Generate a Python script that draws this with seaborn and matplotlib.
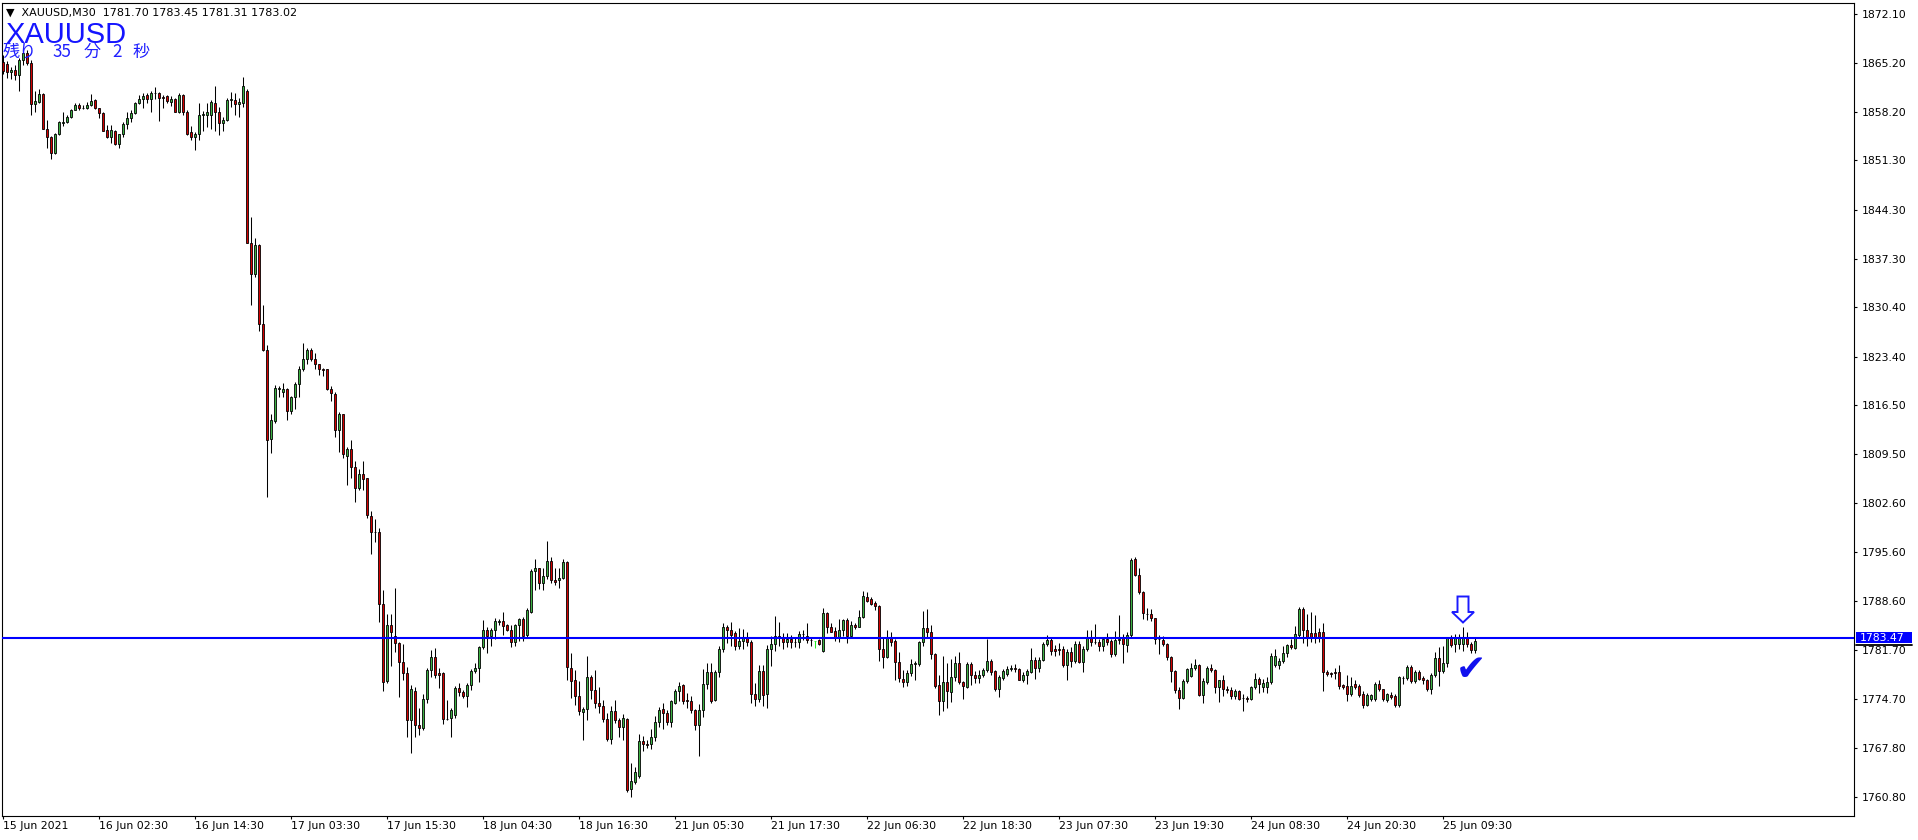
import numpy as np
import pandas as pd
import matplotlib
matplotlib.use("Agg")
import matplotlib.pyplot as plt
from matplotlib.patches import Polygon, Rectangle
from matplotlib.lines import Line2D
import seaborn as sns

sns.set_theme(style="white")
plt.rcParams['font.family'] = ['DejaVu Sans', 'Noto Sans CJK JP']

W, H = 1918, 840

HEADER = "\u25bc  XAUUSD,M30  1781.70 1783.45 1781.31 1783.02"
SYMBOL = "XAUUSD"
COUNTDOWN = ["残り", "35", "分", "2", "秒"]
LINE_PRICE = 1783.47

TIME_LABELS = ["15 Jun 2021", "16 Jun 02:30", "16 Jun 14:30", "17 Jun 03:30", "17 Jun 15:30",
               "18 Jun 04:30", "18 Jun 16:30", "21 Jun 05:30", "21 Jun 17:30", "22 Jun 06:30",
               "22 Jun 18:30", "23 Jun 07:30", "23 Jun 19:30", "24 Jun 08:30", "24 Jun 20:30",
               "25 Jun 09:30"]
LABEL_STEP = 24  # bars between time labels

PRICE_TICKS = [1872.10, 1865.20, 1858.20, 1851.30, 1844.30, 1837.30, 1830.40, 1823.40, 1816.50,
               1809.50, 1802.60, 1795.60, 1788.60, 1781.70, 1774.70, 1767.80, 1760.80]

# M30 bars, 15 Jun 2021 -> 25 Jun 2021
opens = [
    1865.3, 1865.0, 1863.8, 1864.2, 1863.4, 1865.6, 1866.6, 1865.1, 1859.3, 1859.6, 1860.7, 1855.8,
    1854.6, 1852.4, 1855.0, 1856.6, 1856.7, 1857.4, 1858.5, 1859.1, 1858.8, 1858.8, 1859.1, 1859.9,
    1858.7, 1858.0, 1855.6, 1854.6, 1855.5, 1853.6, 1855.0, 1856.4, 1857.3, 1858.0, 1859.4, 1860.0,
    1860.6, 1860.0, 1860.8, 1860.8, 1860.3, 1860.4, 1859.6, 1860.0, 1858.2, 1860.6, 1858.1, 1855.3,
    1854.6, 1855.0, 1857.7, 1857.8, 1857.8, 1859.5, 1858.2, 1856.6, 1857.1, 1859.9, 1859.9, 1859.3,
    1859.5, 1861.2, 1839.6, 1835.1, 1839.3, 1828.1, 1824.4, 1811.7, 1814.3, 1818.8, 1818.4, 1818.8,
    1815.7, 1817.7, 1819.5, 1821.7, 1823.0, 1824.3, 1823.0, 1822.3, 1821.7, 1821.6, 1818.8, 1818.1,
    1812.9, 1815.2, 1809.3, 1810.3, 1807.7, 1804.7, 1806.7, 1806.1, 1800.8, 1798.5, 1798.5, 1788.3,
    1777.3, 1785.3, 1783.7, 1782.7, 1780.0, 1778.4, 1771.8, 1775.9, 1771.1, 1770.6, 1774.8, 1778.9,
    1780.7, 1778.4, 1778.4, 1771.9, 1772.0, 1772.4, 1776.3, 1775.7, 1775.2, 1776.7, 1778.7, 1779.1,
    1782.1, 1784.5, 1783.7, 1784.5, 1785.7, 1785.8, 1785.2, 1784.6, 1782.9, 1785.2, 1786.1, 1783.8,
    1787.1, 1792.9, 1793.3, 1791.2, 1792.2, 1794.3, 1791.6, 1791.6, 1792.0, 1794.2, 1779.2, 1777.5,
    1775.2, 1772.9, 1773.3, 1777.8, 1776.0, 1774.1, 1773.8, 1771.9, 1769.0, 1773.0, 1771.8, 1770.7,
    1771.9, 1761.9, 1763.0, 1763.8, 1768.8, 1768.4, 1768.3, 1769.4, 1771.4, 1773.3, 1772.7, 1771.4,
    1774.2, 1775.8, 1776.7, 1774.6, 1774.5, 1773.1, 1771.1, 1773.1, 1776.8, 1778.5, 1774.6, 1778.5,
    1781.9, 1785.0, 1784.5, 1784.1, 1782.3, 1783.0, 1783.4, 1782.8, 1775.5, 1774.8, 1778.7, 1775.4,
    1781.8, 1782.6, 1783.7, 1783.4, 1782.9, 1783.3, 1782.9, 1782.8, 1783.9, 1783.7, 1783.1, 1783.0,
    1783.1, 1781.6, 1786.9, 1785.0, 1784.4, 1783.5, 1784.6, 1786.0, 1783.7, 1785.3, 1785.0, 1786.4,
    1789.2, 1788.9, 1788.4, 1788.0, 1781.8, 1780.7, 1783.4, 1783.0, 1780.0, 1777.6, 1777.2, 1778.4,
    1779.7, 1779.7, 1782.8, 1784.8, 1784.3, 1781.1, 1776.7, 1774.5, 1777.2, 1775.7, 1777.8, 1779.8,
    1777.2, 1776.5, 1779.7, 1778.2, 1777.7, 1778.2, 1778.8, 1780.1, 1778.7, 1776.2, 1777.7, 1778.3,
    1779.0, 1779.2, 1779.0, 1777.5, 1778.1, 1778.6, 1780.3, 1779.1, 1780.3, 1782.6, 1783.1, 1781.8,
    1781.9, 1781.9, 1779.5, 1781.4, 1780.2, 1782.6, 1780.0, 1781.8, 1783.4, 1782.8, 1782.8, 1782.3,
    1783.3, 1783.0, 1781.1, 1783.1, 1783.4, 1782.4, 1783.8, 1794.6, 1792.4, 1789.9, 1786.8, 1786.8,
    1786.2, 1783.3, 1783.1, 1782.6, 1780.7, 1778.7, 1776.0, 1774.9, 1777.3, 1778.0, 1779.1, 1779.6,
    1775.3, 1777.2, 1779.2, 1778.9, 1776.4, 1777.4, 1776.2, 1776.0, 1775.1, 1775.9, 1774.9, 1774.9,
    1774.8, 1776.4, 1777.6, 1776.4, 1776.4, 1777.1, 1779.6, 1779.6, 1780.1, 1781.2, 1782.4, 1782.0,
    1783.8, 1787.5, 1784.6, 1784.1, 1784.1, 1784.2, 1784.2, 1778.5, 1778.4, 1778.6, 1778.5, 1776.7,
    1776.6, 1775.4, 1776.9, 1776.6, 1775.5, 1773.9, 1774.8, 1774.7, 1776.9, 1776.1, 1774.6, 1775.3,
    1775.2, 1773.9, 1777.7, 1777.7, 1779.3, 1777.3, 1778.5, 1777.7, 1777.4, 1776.1, 1778.1, 1780.5,
    1778.7, 1779.8, 1783.4, 1782.6, 1782.6, 1782.6, 1783.4, 1782.6, 1781.70,
]
highs = [
    1866.3, 1865.4, 1864.6, 1864.8, 1865.9, 1867.2, 1867.0, 1865.6, 1861.1, 1861.5, 1860.9, 1857.0,
    1854.8, 1855.2, 1856.9, 1858.2, 1857.7, 1858.6, 1859.5, 1859.4, 1859.2, 1859.6, 1860.7, 1860.0,
    1858.8, 1858.1, 1856.3, 1856.3, 1855.6, 1855.1, 1856.7, 1858.2, 1858.5, 1859.6, 1860.6, 1860.8,
    1860.8, 1861.2, 1861.7, 1861.0, 1860.6, 1860.6, 1860.4, 1860.1, 1860.8, 1860.7, 1858.5, 1856.2,
    1855.3, 1859.5, 1858.3, 1859.4, 1859.9, 1861.8, 1858.9, 1857.4, 1860.1, 1861.0, 1860.8, 1860.1,
    1863.2, 1861.5, 1843.3, 1840.2, 1839.4, 1830.7, 1825.0, 1815.2, 1819.4, 1819.2, 1819.7, 1818.9,
    1817.8, 1819.8, 1822.0, 1825.3, 1824.6, 1824.6, 1823.9, 1822.4, 1821.8, 1821.7, 1819.2, 1818.4,
    1815.5, 1815.3, 1810.6, 1811.6, 1808.5, 1807.4, 1808.5, 1806.2, 1801.5, 1800.3, 1799.0, 1790.2,
    1786.8, 1786.8, 1790.5, 1782.9, 1782.5, 1779.3, 1776.7, 1776.5, 1773.4, 1775.5, 1779.2, 1781.7,
    1782.0, 1779.2, 1778.5, 1774.6, 1773.4, 1776.6, 1777.0, 1776.0, 1777.0, 1779.0, 1779.8, 1782.2,
    1786.0, 1784.9, 1784.8, 1786.3, 1786.1, 1787.1, 1785.4, 1785.2, 1785.4, 1786.2, 1786.4, 1787.6,
    1793.2, 1794.6, 1793.4, 1793.3, 1797.2, 1794.9, 1793.3, 1793.4, 1794.6, 1794.4, 1781.3, 1778.8,
    1777.3, 1773.6, 1780.8, 1778.2, 1778.9, 1776.4, 1774.6, 1772.8, 1773.8, 1774.6, 1772.0, 1772.6,
    1772.0, 1765.6, 1765.0, 1769.7, 1769.5, 1768.9, 1770.4, 1772.3, 1773.6, 1774.2, 1773.1, 1774.6,
    1776.2, 1777.2, 1776.9, 1775.6, 1775.1, 1773.3, 1774.0, 1779.0, 1779.9, 1779.9, 1778.9, 1782.2,
    1785.6, 1785.3, 1785.7, 1784.4, 1784.8, 1784.7, 1784.2, 1783.1, 1777.0, 1779.6, 1779.5, 1782.4,
    1783.7, 1786.5, 1785.7, 1784.1, 1784.1, 1783.8, 1783.5, 1784.4, 1784.5, 1785.5, 1783.5, 1783.0,
    1783.2, 1787.6, 1787.1, 1785.6, 1784.9, 1786.1, 1786.1, 1786.2, 1785.8, 1785.6, 1787.4, 1790.1,
    1789.9, 1789.2, 1788.6, 1788.1, 1783.4, 1784.5, 1784.2, 1783.2, 1781.4, 1778.8, 1778.8, 1780.4,
    1780.2, 1783.0, 1787.2, 1787.5, 1785.3, 1781.3, 1778.1, 1780.9, 1779.9, 1780.4, 1780.8, 1781.4,
    1777.3, 1780.0, 1780.0, 1778.7, 1778.8, 1779.1, 1783.2, 1780.4, 1778.9, 1778.2, 1779.0, 1779.4,
    1779.6, 1779.7, 1779.2, 1778.6, 1779.0, 1782.0, 1780.7, 1780.7, 1782.8, 1783.8, 1783.4, 1782.4,
    1782.7, 1782.3, 1781.9, 1782.1, 1783.0, 1783.0, 1782.2, 1784.5, 1784.5, 1785.4, 1783.2, 1783.5,
    1784.1, 1783.3, 1784.4, 1786.6, 1784.0, 1784.2, 1794.8, 1794.9, 1793.4, 1790.1, 1787.6, 1787.5,
    1786.3, 1783.8, 1783.7, 1782.7, 1780.8, 1778.8, 1776.4, 1777.6, 1779.2, 1779.8, 1780.4, 1779.7,
    1777.7, 1779.4, 1779.7, 1779.0, 1777.5, 1778.1, 1776.6, 1776.4, 1776.2, 1776.0, 1775.4, 1775.2,
    1776.6, 1778.4, 1777.9, 1777.6, 1777.9, 1781.2, 1781.9, 1780.5, 1782.2, 1782.6, 1783.2, 1785.1,
    1787.8, 1787.8, 1786.8, 1787.1, 1786.6, 1784.8, 1785.5, 1778.9, 1778.6, 1779.1, 1779.6, 1776.9,
    1778.2, 1777.9, 1777.4, 1776.8, 1775.8, 1775.6, 1775.5, 1777.1, 1777.4, 1776.2, 1775.6, 1775.7,
    1775.4, 1778.0, 1778.0, 1779.6, 1779.6, 1778.9, 1778.8, 1778.0, 1777.6, 1778.4, 1781.4, 1782.1,
    1782.2, 1783.6, 1783.8, 1784.0, 1783.9, 1785.0, 1784.3, 1782.8, 1783.45,
]
lows = [
    1863.5, 1863.0, 1862.9, 1862.7, 1861.2, 1864.9, 1864.9, 1857.7, 1858.1, 1859.4, 1855.7, 1853.1,
    1851.5, 1852.2, 1854.9, 1856.2, 1856.6, 1857.3, 1858.4, 1858.5, 1858.6, 1858.6, 1859.0, 1858.6,
    1857.3, 1855.4, 1854.5, 1853.7, 1853.5, 1853.1, 1854.6, 1855.7, 1856.8, 1857.9, 1859.3, 1858.8,
    1859.4, 1858.2, 1860.0, 1856.9, 1858.8, 1859.4, 1859.0, 1858.1, 1858.0, 1857.7, 1854.9, 1854.2,
    1852.8, 1854.2, 1855.4, 1856.1, 1855.8, 1855.5, 1854.9, 1855.5, 1856.9, 1858.9, 1857.7, 1857.5,
    1858.9, 1839.5, 1830.7, 1834.7, 1827.0, 1824.2, 1803.4, 1809.7, 1813.9, 1817.7, 1817.7, 1814.4,
    1815.2, 1815.9, 1817.6, 1821.3, 1822.4, 1822.8, 1821.7, 1820.8, 1820.7, 1818.7, 1817.1, 1812.0,
    1809.8, 1809.0, 1805.1, 1806.1, 1802.8, 1804.5, 1804.5, 1800.4, 1795.3, 1797.1, 1785.7, 1775.9,
    1777.0, 1779.4, 1781.4, 1775.0, 1777.4, 1769.3, 1767.1, 1769.4, 1769.6, 1770.3, 1774.2, 1777.8,
    1777.7, 1776.3, 1771.2, 1771.8, 1769.4, 1772.0, 1775.2, 1774.9, 1773.6, 1776.0, 1778.4, 1777.2,
    1781.8, 1781.2, 1782.3, 1783.2, 1785.3, 1783.8, 1784.4, 1782.1, 1782.3, 1783.0, 1783.0, 1783.6,
    1786.9, 1790.2, 1790.3, 1790.2, 1791.8, 1791.2, 1791.0, 1790.5, 1791.8, 1777.4, 1774.9, 1773.9,
    1772.4, 1768.9, 1771.8, 1774.8, 1773.4, 1772.8, 1771.4, 1768.7, 1768.4, 1771.3, 1769.4, 1768.9,
    1761.5, 1760.8, 1762.6, 1763.5, 1767.3, 1767.7, 1767.6, 1768.8, 1770.8, 1770.4, 1771.0, 1770.8,
    1774.0, 1774.4, 1774.0, 1773.4, 1772.7, 1770.3, 1766.6, 1772.2, 1776.1, 1774.2, 1774.4, 1777.9,
    1781.4, 1782.7, 1782.2, 1781.7, 1781.8, 1781.9, 1782.3, 1774.2, 1773.8, 1774.3, 1773.7, 1773.4,
    1779.4, 1781.6, 1782.2, 1781.8, 1782.1, 1782.0, 1782.1, 1782.0, 1783.1, 1782.7, 1782.3, 1782.0,
    1782.4, 1781.4, 1784.1, 1784.2, 1783.0, 1782.9, 1783.7, 1782.7, 1783.5, 1784.7, 1784.9, 1786.2,
    1788.5, 1788.1, 1787.4, 1780.1, 1779.2, 1780.5, 1782.2, 1777.5, 1777.2, 1776.5, 1776.6, 1778.0,
    1777.4, 1779.4, 1782.3, 1783.6, 1780.4, 1776.3, 1772.5, 1773.0, 1773.5, 1774.3, 1777.3, 1776.9,
    1774.7, 1776.3, 1776.7, 1777.0, 1777.0, 1777.8, 1778.6, 1778.1, 1775.8, 1775.0, 1777.5, 1778.0,
    1778.7, 1778.6, 1777.4, 1777.1, 1776.9, 1778.4, 1777.6, 1778.6, 1780.2, 1782.2, 1781.0, 1780.9,
    1781.0, 1779.3, 1777.4, 1779.3, 1779.8, 1779.8, 1778.6, 1781.6, 1782.2, 1782.5, 1781.6, 1781.6,
    1782.4, 1780.7, 1780.9, 1782.6, 1779.9, 1781.4, 1783.6, 1792.2, 1789.7, 1786.1, 1785.9, 1785.8,
    1782.6, 1781.1, 1782.3, 1780.3, 1777.2, 1775.6, 1773.3, 1774.7, 1777.0, 1777.8, 1778.9, 1775.2,
    1774.2, 1776.9, 1778.6, 1775.6, 1774.3, 1775.2, 1775.6, 1774.8, 1774.7, 1774.6, 1773.0, 1774.3,
    1774.6, 1776.2, 1775.6, 1775.7, 1775.6, 1776.8, 1779.3, 1779.0, 1779.9, 1780.7, 1781.8, 1781.8,
    1783.5, 1782.7, 1782.3, 1782.8, 1782.7, 1782.8, 1775.8, 1778.0, 1777.9, 1777.6, 1776.2, 1776.1,
    1774.4, 1775.2, 1776.2, 1775.0, 1773.5, 1773.7, 1774.5, 1774.5, 1775.9, 1774.5, 1774.3, 1774.7,
    1773.6, 1773.6, 1776.8, 1777.5, 1777.0, 1777.0, 1777.4, 1776.8, 1775.8, 1775.5, 1777.9, 1776.6,
    1778.4, 1779.3, 1782.1, 1781.4, 1781.8, 1781.6, 1782.1, 1781.3, 1781.31,
]
closes = [
    1864.0, 1863.8, 1864.1, 1863.4, 1865.6, 1866.6, 1865.2, 1859.3, 1859.7, 1860.7, 1855.8, 1854.6,
    1852.4, 1855.0, 1856.7, 1856.8, 1857.4, 1858.5, 1859.2, 1858.8, 1858.8, 1859.1, 1859.8, 1858.7,
    1858.0, 1855.5, 1854.6, 1855.6, 1853.6, 1855.0, 1856.4, 1857.3, 1858.0, 1859.4, 1860.0, 1860.4,
    1860.0, 1860.8, 1860.8, 1860.1, 1860.1, 1859.7, 1860.0, 1858.2, 1860.6, 1858.2, 1855.0, 1854.6,
    1855.0, 1857.7, 1857.9, 1858.1, 1859.6, 1858.2, 1856.6, 1857.1, 1859.9, 1860.0, 1859.3, 1859.6,
    1861.9, 1839.6, 1835.2, 1839.3, 1828.1, 1824.3, 1811.6, 1814.4, 1818.9, 1818.9, 1818.8, 1815.7,
    1817.7, 1819.5, 1821.7, 1823.0, 1824.3, 1823.0, 1822.3, 1821.7, 1821.5, 1818.8, 1818.2, 1812.9,
    1815.2, 1809.5, 1810.3, 1807.7, 1804.7, 1806.7, 1806.0, 1800.9, 1798.5, 1798.5, 1788.3, 1777.2,
    1785.3, 1784.2, 1782.7, 1780.0, 1778.4, 1771.8, 1776.1, 1771.1, 1770.6, 1774.8, 1778.9, 1780.7,
    1778.2, 1778.2, 1771.9, 1771.9, 1773.2, 1776.3, 1775.7, 1775.2, 1776.7, 1778.7, 1779.1, 1782.1,
    1784.5, 1783.7, 1784.5, 1785.8, 1785.8, 1785.1, 1784.6, 1782.9, 1785.2, 1786.1, 1783.7, 1787.4,
    1792.9, 1793.4, 1791.2, 1792.2, 1794.3, 1791.6, 1791.4, 1792.0, 1794.2, 1779.3, 1777.3, 1775.2,
    1773.0, 1773.3, 1777.8, 1776.0, 1774.1, 1773.8, 1771.9, 1769.0, 1773.0, 1771.8, 1770.7, 1772.0,
    1761.8, 1763.1, 1764.3, 1768.8, 1768.3, 1768.2, 1769.4, 1771.4, 1773.2, 1772.7, 1771.4, 1774.4,
    1775.9, 1776.6, 1774.4, 1774.4, 1773.1, 1771.1, 1773.2, 1776.8, 1778.5, 1774.5, 1778.6, 1781.9,
    1784.9, 1784.5, 1783.8, 1782.3, 1783.0, 1783.4, 1782.8, 1775.5, 1774.8, 1778.7, 1775.3, 1781.8,
    1782.6, 1783.7, 1783.4, 1782.9, 1783.3, 1782.9, 1782.9, 1783.9, 1784.0, 1783.1, 1783.1, 1783.0,
    1782.6, 1786.9, 1785.0, 1784.3, 1783.5, 1784.6, 1786.0, 1783.7, 1785.3, 1784.9, 1786.4, 1789.4,
    1788.7, 1788.3, 1788.0, 1781.8, 1780.7, 1783.4, 1782.9, 1780.0, 1777.7, 1777.2, 1778.4, 1779.7,
    1779.8, 1782.8, 1784.8, 1784.3, 1781.1, 1776.6, 1774.5, 1777.2, 1775.8, 1777.8, 1779.8, 1777.2,
    1776.6, 1779.7, 1778.2, 1777.7, 1778.2, 1778.8, 1780.1, 1778.6, 1776.2, 1777.8, 1778.7, 1779.0,
    1779.2, 1779.0, 1777.5, 1778.1, 1778.7, 1780.3, 1779.1, 1780.3, 1782.6, 1783.1, 1781.6, 1781.6,
    1781.7, 1779.5, 1781.4, 1780.2, 1782.6, 1780.0, 1781.8, 1783.4, 1782.8, 1782.8, 1782.3, 1783.3,
    1782.9, 1781.1, 1783.1, 1783.3, 1782.5, 1783.8, 1794.5, 1792.4, 1789.9, 1786.9, 1786.8, 1786.2,
    1783.3, 1783.3, 1782.6, 1780.7, 1778.7, 1776.0, 1774.9, 1777.3, 1779.0, 1779.1, 1779.6, 1775.3,
    1777.3, 1779.1, 1778.8, 1776.4, 1777.4, 1776.1, 1776.0, 1775.2, 1775.9, 1774.8, 1774.9, 1774.8,
    1776.4, 1777.6, 1776.9, 1777.0, 1777.2, 1780.9, 1780.8, 1780.1, 1781.2, 1782.4, 1782.1, 1783.9,
    1787.5, 1784.6, 1783.4, 1783.4, 1783.4, 1783.6, 1778.5, 1778.3, 1778.3, 1778.4, 1776.6, 1776.5,
    1775.4, 1776.6, 1776.5, 1775.3, 1773.9, 1775.3, 1775.3, 1776.9, 1776.1, 1774.7, 1775.4, 1775.0,
    1773.9, 1777.8, 1777.7, 1779.3, 1777.3, 1778.5, 1777.6, 1777.4, 1776.2, 1778.1, 1780.6, 1778.7,
    1779.8, 1783.4, 1782.4, 1783.4, 1783.4, 1783.4, 1782.5, 1781.7, 1783.02,
]

assert len(opens) == len(highs) == len(lows) == len(closes)

df = pd.DataFrame({"open": opens, "high": highs, "low": lows, "close": closes})
df["bar"] = np.arange(len(df))

BULL = "#3cb043"
BEAR = "#d20000"


def fx(px):
    return px / W


def fy(py):
    return 1 - py / H


fig = plt.figure(figsize=(W / 100, H / 100), dpi=100)
fig.patch.set_facecolor("white")
ax = fig.add_axes([fx(2), fy(816), (1854 - 2) / W, (816 - 3) / H])
ax.set_facecolor("white")

x = df["bar"].values
o, h, l, c = (df[k].values for k in ("open", "high", "low", "close"))
body_lo = np.minimum(o, c)
body_h = np.abs(c - o)
fill = np.where(c > o, BULL, BEAR)
edge = np.where((o == c) & (c == h), "#22ee22", "black")

ax.vlines(x, l, h, colors=edge, linewidth=0.75, zorder=2)
ax.bar(x, body_h, bottom=body_lo, width=0.62, color=fill, edgecolor=edge,
       linewidth=0.6, zorder=3)

ax.axhline(LINE_PRICE, color="#0000ff", linewidth=1.5, zorder=4)

ax.set_xlim(-0.25, 462.75)
ax.set_ylim(1758.10, 1873.66)

for s in ax.spines.values():
    s.set_color("black")
    s.set_linewidth(0.8)
    s.set_visible(True)

ax.yaxis.tick_right()
ax.set_yticks(PRICE_TICKS, labels=[f"{v:.2f}" for v in PRICE_TICKS])
ax.set_xticks([i * LABEL_STEP for i in range(len(TIME_LABELS))], labels=TIME_LABELS)
for t in ax.get_xticklabels():
    t.set_ha("left")
ax.tick_params(axis="y", which="both", right=True, left=False, direction="out",
               length=2.4, width=0.8, color="black", labelsize=7.8, labelcolor="black", pad=3.2)
ax.tick_params(axis="x", which="both", bottom=True, direction="out",
               length=2.4, width=0.8, color="black", labelsize=7.8, labelcolor="black", pad=1.5)
ax.grid(False)
ax.set_xlabel("")
ax.set_ylabel("")

# price label for the horizontal line
fig.canvas.draw()
line_y = ax.transData.transform((0, LINE_PRICE))[1]
box_h = 11
fig.patches.append(Rectangle((fx(1856), (line_y - box_h / 2) / H), 56 / W, box_h / H,
                             transform=fig.transFigure, facecolor="#0000ff",
                             edgecolor="none", zorder=10))
fig.lines.append(Line2D([fx(1856), fx(1912)], [(line_y - box_h / 2 - 1.5) / H] * 2,
                        transform=fig.transFigure, color="black", linewidth=1.3, zorder=10))
fig.text(fx(1860), line_y / H, f"{LINE_PRICE:.2f}", color="white", fontsize=7.8,
         ha="left", va="center", zorder=11)

# header and on-chart labels
fig.text(fx(6), fy(13), HEADER, fontsize=8, color="black", ha="left", va="center",
         family=["DejaVu Sans"])
fig.text(fx(5), fy(42.7), SYMBOL, fontsize=21, color="#1414ff", ha="left", va="baseline",
         family=["Liberation Sans", "DejaVu Sans"])
for token, px in zip(COUNTDOWN, [3, 52, 84, 112, 133]):
    fig.text(fx(px), fy(57), token, fontsize=12.3, color="#2020ff", ha="left",
             va="baseline", family=["Noto Sans CJK JP", "DejaVu Sans"])

arrow = [(1457.5, 596.5), (1468.5, 596.5), (1468.5, 612), (1474, 612), (1463, 622.5),
         (1452, 612), (1457.5, 612)]
fig.patches.append(Polygon([(fx(a), fy(b)) for a, b in arrow], closed=True,
                           transform=fig.transFigure, facecolor="white",
                           edgecolor="#1a1aff", linewidth=1.4, zorder=12))
fig.text(fx(1471), fy(670), "\u2714", fontsize=26, color="#1010ee", ha="center",
         va="center", family=["DejaVu Sans"], zorder=12)

fig.savefig("out.png", dpi=100, facecolor="white")
